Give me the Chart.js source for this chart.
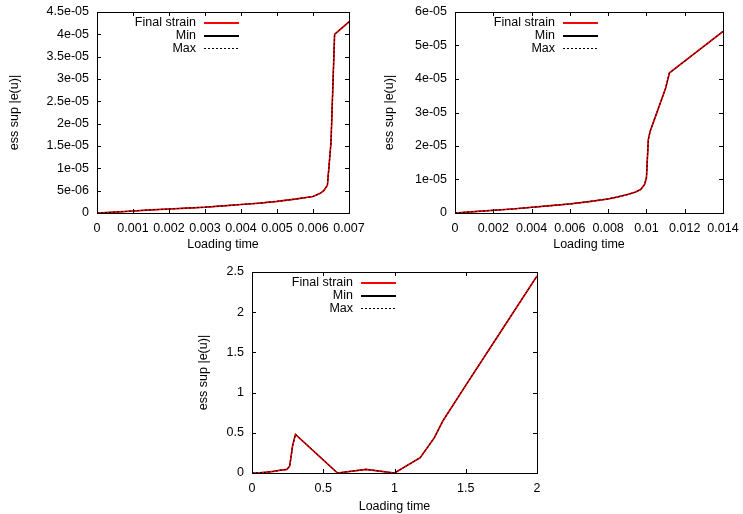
<!DOCTYPE html>
<html>
<head>
<meta charset="utf-8">
<script src="https://cdn.jsdelivr.net/npm/chart.js@4.4.1/dist/chart.umd.min.js"></script>
<style>
body { margin: 0; background: #fff; }
canvas { position: absolute; }
</style>
</head>
<body>
<canvas id="chart1" width="372" height="257" style="left:0;top:0"></canvas>
<canvas id="chart2" width="371" height="257" style="left:372px;top:0"></canvas>
<canvas id="chart3" width="380" height="257" style="left:180px;top:257px"></canvas>
<script>
// run 1: loading up to 0.007
var timeA = [0, 0.0005, 0.001, 0.0015, 0.002, 0.0025, 0.003, 0.0035, 0.004, 0.0045, 0.005, 0.0055, 0.006, 0.0062, 0.0063, 0.0064, 0.0065, 0.0066, 0.007];
var strainA = [0, 0.2e-6, 0.45e-6, 0.7e-6, 0.9e-6, 1.1e-6, 1.3e-6, 1.6e-6, 1.9e-6, 2.2e-6, 2.6e-6, 3.1e-6, 3.7e-6, 4.4e-6, 5.0e-6, 6.2e-6, 1.58e-5, 4.0e-5, 4.28e-5];
// run 2: loading up to 0.014
var timeB = [0, 0.001, 0.002, 0.003, 0.004, 0.005, 0.006, 0.007, 0.008, 0.0085, 0.009, 0.0094, 0.0097, 0.0099, 0.01, 0.0101, 0.0102, 0.011, 0.0112, 0.014];
var strainB = [0, 0.4e-6, 0.8e-6, 1.2e-6, 1.7e-6, 2.2e-6, 2.7e-6, 3.4e-6, 4.2e-6, 4.8e-6, 5.5e-6, 6.2e-6, 7.0e-6, 8.5e-6, 1.05e-5, 2.2e-5, 2.45e-5, 3.72e-5, 4.18e-5, 5.42e-5];
// run 3: loading up to 2
var timeC = [0, 0.05, 0.1, 0.15, 0.2, 0.245, 0.264, 0.274, 0.285, 0.305, 0.6, 0.8, 1.0, 1.18, 1.28, 1.34, 1.5, 1.75, 2.0];
var strainC = [0, 0.003, 0.01, 0.02, 0.035, 0.045, 0.085, 0.2, 0.34, 0.48, 0, 0.045, 0, 0.19, 0.44, 0.65, 1.09, 1.77, 2.45];
// min and max of the strain coincide with the final value in all runs
var minA = strainA, maxA = strainA;
var minB = strainB, maxB = strainB;
var minC = strainC, maxC = strainC;

var seriesNames = ['Final strain', 'Min', 'Max'];
var yTicksA = [0, 4.5e-5, 0.5e-5];
var yTicksB = [0, 6e-5, 1e-5];
var yTicksC = [0, 2.5, 0.5];
var xTicksA = [0, 0.007, 0.001];
var xTicksB = [0, 0.014, 0.002];
var xTicksC = [0, 2, 0.5];

Chart.defaults.font.family = "'Liberation Sans', Arial, sans-serif";
Chart.defaults.font.size = 12.5;
Chart.defaults.color = '#000';

// gnuplot style number labels (0.001, 5e-06, 4.5e-05)
function gfmt(v) {
    if (Math.abs(v) < 1e-15) return '0';
    var r = parseFloat(v.toPrecision(6));
    if (Math.abs(r) < 1e-4) {
        var parts = r.toExponential().split('e');
        var ex = parseInt(parts[1], 10);
        return parts[0] + 'e' + (ex < 0 ? '-' : '+') + String(Math.abs(ex)).padStart(2, '0');
    }
    return String(r);
}

function points(xs, ys) {
    return xs.map(function(x, i) { return {x: x, y: ys[i]}; });
}

// border box, inward ticks on all four sides and the key
var gnuplotFrame = {
    id: 'gnuplotFrame',
    afterDatasetsDraw: function(chart, args, opts) {
        var ctx = chart.ctx, a = chart.chartArea;
        var xs = chart.scales.x, ys = chart.scales.y;
        ctx.save();
        ctx.strokeStyle = '#000';
        ctx.lineWidth = 1;
        ctx.setLineDash([]);
        ctx.beginPath();
        xs.ticks.forEach(function(t) {
            var px = Math.round(xs.getPixelForValue(t.value)) + 0.5;
            ctx.moveTo(px, a.bottom); ctx.lineTo(px, a.bottom - 4);
            ctx.moveTo(px, a.top); ctx.lineTo(px, a.top + 4);
        });
        ys.ticks.forEach(function(t) {
            var py = Math.round(ys.getPixelForValue(t.value)) + 0.5;
            ctx.moveTo(a.left, py); ctx.lineTo(a.left + 4, py);
            ctx.moveTo(a.right, py); ctx.lineTo(a.right - 4, py);
        });
        ctx.stroke();
        ctx.strokeRect(Math.round(a.left) + 0.5, Math.round(a.top) + 0.5,
            Math.round(a.right - a.left), Math.round(a.bottom - a.top));

        ctx.font = "12.5px 'Liberation Sans', Arial, sans-serif";
        ctx.textAlign = 'right';
        ctx.textBaseline = 'middle';
        chart.data.datasets.forEach(function(ds, i) {
            var tx = a.left + opts.keyRight;
            var ty = a.top + opts.keyTop + i * 12.7;
            var dotted = !!ds.borderDash;
            var ly = Math.round(ty) + (dotted ? 0.5 : 0);
            ctx.fillStyle = '#000';
            ctx.fillText(ds.label, tx, ty);
            ctx.strokeStyle = ds.borderColor;
            ctx.lineWidth = dotted ? 1 : 2;
            ctx.setLineDash(ds.borderDash || []);
            ctx.beginPath();
            ctx.moveTo(tx + 8, ly);
            ctx.lineTo(tx + 43, ly);
            ctx.stroke();
        });
        ctx.restore();
    }
};

function makeChart(id, xv, strain, mins, maxs, xt, yt, box) {
    return new Chart(id, {
        type: 'line',
        data: {
            datasets: [{
                label: seriesNames[0],
                data: points(xv, strain),
                borderColor: '#ff0000',
                borderWidth: 1.6,
                order: 1
            }, {
                label: seriesNames[1],
                data: points(xv, mins),
                borderColor: '#000',
                borderWidth: 1.2,
                order: 2
            }, {
                label: seriesNames[2],
                data: points(xv, maxs),
                borderColor: '#000',
                borderWidth: 1,
                borderDash: [2, 2],
                order: 0
            }]
        },
        options: {
            responsive: false,
            animation: false,
            elements: { point: { radius: 0 }, line: { tension: 0 } },
            layout: { padding: { left: 0, top: box.top, right: box.right, bottom: 0 } },
            plugins: {
                legend: { display: false },
                tooltip: { enabled: false },
                gnuplotFrame: { keyRight: box.keyRight, keyTop: box.keyTop }
            },
            scales: {
                x: {
                    type: 'linear',
                    min: xt[0],
                    max: xt[1],
                    grid: { display: false, drawTicks: false },
                    border: { display: false },
                    ticks: {
                        stepSize: xt[2],
                        autoSkip: false,
                        maxRotation: 0,
                        padding: 8,
                        callback: function(v) { return gfmt(v); }
                    },
                    title: {
                        display: true,
                        text: 'Loading time',
                        padding: { top: 0, bottom: box.titleBottom }
                    },
                    afterFit: function(s) {
                        s.height = box.xHeight;
                        s.paddingLeft = 0;
                        s.paddingRight = 0;
                    }
                },
                y: {
                    min: yt[0],
                    max: yt[1],
                    grid: { display: false, drawTicks: false },
                    border: { display: false },
                    ticks: {
                        stepSize: yt[2],
                        autoSkip: false,
                        padding: 8,
                        callback: function(v) { return gfmt(v); }
                    },
                    title: {
                        display: true,
                        text: 'ess sup |e(u)|',
                        padding: { top: box.titleLeft, bottom: 0 }
                    },
                    afterFit: function(s) {
                        s.width = box.yWidth;
                        s.paddingTop = 0;
                        s.paddingBottom = 0;
                    }
                }
            }
        },
        plugins: [gnuplotFrame]
    });
}

makeChart('chart1', timeA, strainA, minA, maxA, xTicksA, yTicksA,
    { top: 12, right: 23, yWidth: 97, xHeight: 44, titleLeft: 7.5, titleBottom: 4.5, keyRight: 99, keyTop: 11 });
makeChart('chart2', timeB, strainB, minB, maxB, xTicksB, yTicksB,
    { top: 12, right: 20, yWidth: 83, xHeight: 44, titleLeft: 10.5, titleBottom: 4.5, keyRight: 100, keyTop: 11 });
makeChart('chart3', timeC, strainC, minC, maxC, xTicksC, yTicksC,
    { top: 15, right: 23, yWidth: 72, xHeight: 41, titleLeft: 16, titleBottom: 0, keyRight: 101, keyTop: 11 });
</script>
</body>
</html>
